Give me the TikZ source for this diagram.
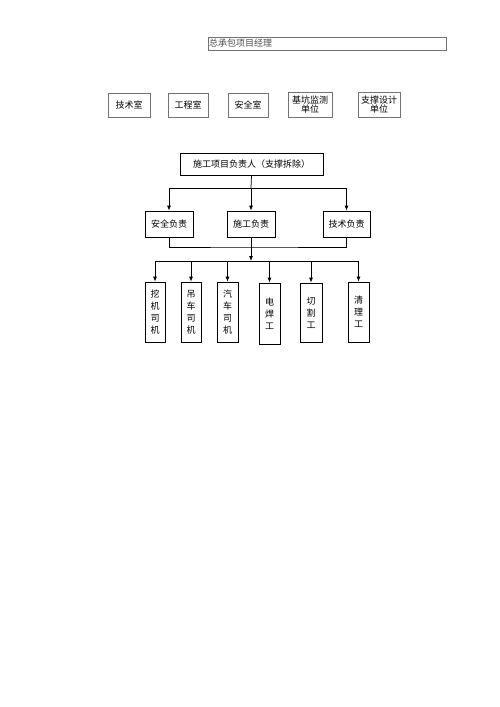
\documentclass[tikz,border=0pt]{standalone}
\usepackage{fontspec}
\setmainfont{Noto Sans CJK SC}
\usetikzlibrary{arrows.meta}
\begin{document}
\begin{tikzpicture}[x=1pt,y=-1pt,
  gbox/.style={draw=black!55,line width=0.7pt,inner sep=0pt,align=center,font=\fontsize{9}{10}\selectfont},
  bbox/.style={draw=black,line width=0.75pt,inner sep=0pt,align=center,font=\fontsize{9}{10}\selectfont},
  vbox/.style={draw=black,line width=0.75pt,inner sep=0pt,align=center,font=\fontsize{9}{12}\selectfont},
  conn/.style={draw=black,line width=0.75pt},
  arr/.style={conn,-{Latex[length=5pt,width=4pt]}}]
\useasboundingbox (0,0) rectangle (500,707);
% top
\node[gbox,minimum width=238pt,minimum height=13pt,text width=236pt,align=left,text=black!70] (pm) at (327,43.5) {总承包项目经理};
% second row
\node[gbox,minimum width=42pt,minimum height=24pt] (r1) at (129,105) {技术室};
\node[gbox,minimum width=40pt,minimum height=24pt] (r2) at (188,105) {工程室};
\node[gbox,minimum width=40pt,minimum height=24pt] (r3) at (248,105) {安全室};
\node[gbox,minimum width=44pt,minimum height=25pt,font=\fontsize{9}{9.5}\selectfont] (r4) at (310,104.5) {基坑监测\\单位};
\node[gbox,minimum width=42pt,minimum height=25pt,font=\fontsize{9}{9.5}\selectfont] (r5) at (379,104.5) {支撑设计\\单位};
% leader
\node[bbox,minimum width=143pt,minimum height=22pt] (p) at (251.5,164) {施工项目负责人（支撑拆除）};
% middle
\node[bbox,minimum width=48pt,minimum height=26pt] (m1) at (169,224) {安全负责};
\node[bbox,minimum width=48pt,minimum height=26pt] (m2) at (251,224) {施工负责};
\node[bbox,minimum width=47pt,minimum height=26pt] (m3) at (346.5,224) {技术负责};
% bottom
\node[vbox,minimum width=20pt,minimum height=60pt] (b1) at (155,312) {挖\\机\\司\\机};
\node[vbox,minimum width=20pt,minimum height=60pt] (b2) at (191,312) {吊\\车\\司\\机};
\node[vbox,minimum width=21pt,minimum height=60pt] (b3) at (227.5,312) {汽\\车\\司\\机};
\node[vbox,minimum width=21pt,minimum height=61pt] (b4) at (269.5,313.5) {电\\焊\\工};
\node[vbox,minimum width=22pt,minimum height=59pt] (b5) at (311,312.5) {切\\割\\工};
\node[vbox,minimum width=21pt,minimum height=60pt] (b6) at (358.5,312) {清\\理\\工};
% connectors
\coordinate (j1) at (251,188);
\coordinate (j2) at (251,247);
\coordinate (j3) at (251,261);
\draw[conn] (p.south) -- (j1);
\draw[arr] (j1) -| (m1.north);
\draw[arr] (j1) -- (m2.north);
\draw[arr] (j1) -| (m3.north);
\draw[conn] (m1.south) |- (j2) -| (m3.south);
\draw[conn] (m2.south) -- (j2);
\draw[arr] (j2) -- (j3);
\draw[arr] (j3) -| (b1.north);
\draw[arr] (j3) -| (b2.north);
\draw[arr] (j3) -| (b3.north);
\draw[arr] (j3) -| (b4.north);
\draw[arr] (j3) -| (b5.north);
\draw[arr] (j3) -| (b6.north);
\end{tikzpicture}
\end{document}
